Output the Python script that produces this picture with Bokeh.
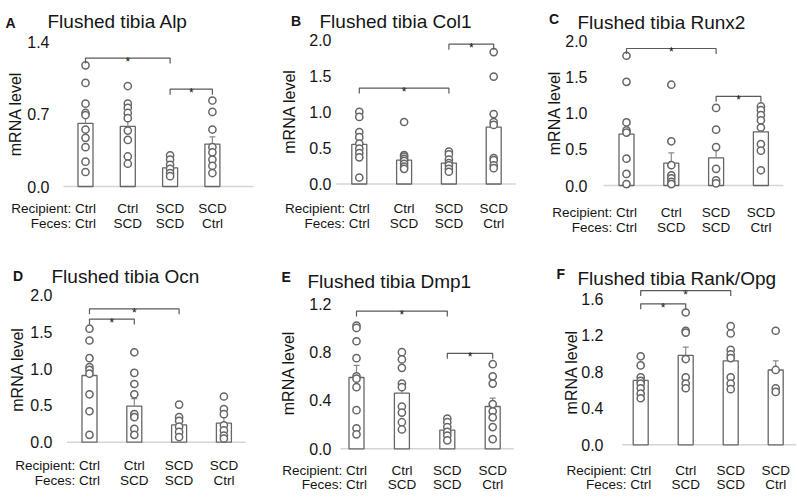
import numpy as np
from bokeh.plotting import figure
from bokeh.models import Range1d, FixedTicker, PrintfTickFormatter, Label
from bokeh.layouts import column, row
from bokeh.embed import file_html
from bokeh.resources import INLINE
from bokeh.core.properties import value

# ---------------- data ----------------
recipients = ["Ctrl", "Ctrl", "SCD", "SCD"]
feces = ["Ctrl", "SCD", "SCD", "Ctrl"]
letters = ["A", "B", "C", "D", "E", "F"]
titles = ["Flushed tibia Alp", "Flushed tibia Col1", "Flushed tibia Runx2",
          "Flushed tibia Ocn", "Flushed tibia Dmp1", "Flushed tibia Rank/Opg"]
ylabel = "mRNA level"

alp_mean = [0.61, 0.58, 0.18, 0.41]
alp_sem = [0.10, 0.08, 0.03, 0.07]
alp_points = [[1.17, 1.00, 0.80, 0.71, 0.69, 0.55, 0.47, 0.38, 0.24, 0.14],
              [0.97, 0.80, 0.76, 0.71, 0.66, 0.54, 0.45, 0.29, 0.22],
              [0.30, 0.26, 0.21, 0.17, 0.13, 0.10],
              [0.83, 0.72, 0.55, 0.38, 0.33, 0.26, 0.20, 0.13]]
alp_ticks = [0.0, 0.7, 1.4]
alp_sig = [(0, 2, 1.24), (2, 3, 0.94)]

col1_mean = [0.55, 0.33, 0.29, 0.79]
col1_sem = [0.08, 0.07, 0.04, 0.18]
col1_points = [[1.00, 0.93, 0.72, 0.65, 0.56, 0.49, 0.43, 0.37, 0.09],
               [0.86, 0.40, 0.38, 0.35, 0.32, 0.28, 0.24, 0.21],
               [0.45, 0.41, 0.34, 0.29, 0.26, 0.21, 0.17],
               [1.83, 1.49, 0.97, 0.86, 0.82, 0.36, 0.33, 0.26, 0.22]]
col1_ticks = [0.0, 0.5, 1.0, 1.5, 2.0]
col1_sig = [(0, 2, 1.33), (2, 3, 1.94)]

runx2_mean = [0.71, 0.31, 0.38, 0.74]
runx2_sem = [0.20, 0.14, 0.12, 0.09]
runx2_points = [[1.79, 1.43, 0.87, 0.76, 0.73, 0.37, 0.16, 0.02],
                [1.39, 0.61, 0.28, 0.14, 0.10, 0.05, 0.02],
                [1.07, 0.77, 0.53, 0.23, 0.07, 0.03],
                [1.09, 1.04, 0.97, 0.90, 0.80, 0.57, 0.48, 0.21]]
runx2_ticks = [0.0, 0.5, 1.0, 1.5, 2.0]
runx2_sig = [(0, 2, 1.89), (2, 3, 1.23)]

ocn_mean = [0.905, 0.49, 0.235, 0.26]
ocn_sem = [0.14, 0.10, 0.05, 0.08]
ocn_points = [[1.54, 1.38, 1.14, 1.02, 0.98, 0.93, 0.65, 0.42, 0.10],
              [1.22, 0.94, 0.79, 0.65, 0.38, 0.34, 0.18, 0.10],
              [0.51, 0.34, 0.29, 0.21, 0.14, 0.07],
              [0.62, 0.45, 0.38, 0.23, 0.16, 0.09, 0.05]]
ocn_ticks = [0.0, 0.5, 1.0, 1.5, 2.0]
ocn_sig = [(0, 2, 1.81), (0, 1, 1.67)]

dmp1_mean = [0.59, 0.46, 0.155, 0.35]
dmp1_sem = [0.10, 0.07, 0.03, 0.07]
dmp1_points = [[1.02, 1.00, 0.89, 0.75, 0.60, 0.58, 0.51, 0.32, 0.17, 0.12],
               [0.80, 0.74, 0.67, 0.54, 0.51, 0.35, 0.30, 0.22, 0.16],
               [0.25, 0.22, 0.18, 0.14, 0.11, 0.07],
               [0.70, 0.60, 0.54, 0.37, 0.31, 0.26, 0.18, 0.08]]
dmp1_ticks = [0.0, 0.4, 0.8, 1.2]
dmp1_sig = [(0, 2, 1.14), (2, 3, 0.79)]

rank_mean = [0.705, 0.98, 0.92, 0.82]
rank_sem = [0.05, 0.09, 0.07, 0.10]
rank_points = [[0.97, 0.87, 0.74, 0.70, 0.67, 0.62, 0.56, 0.51],
               [1.45, 1.25, 1.23, 0.94, 0.74, 0.67, 0.62],
               [1.30, 1.22, 1.04, 0.99, 0.95, 0.74, 0.67, 0.61],
               [1.25, 0.82, 0.62, 0.58]]
rank_ticks = [0.0, 0.4, 0.8, 1.2, 1.6]
rank_sig = [(0, 2, 1.69), (0, 1, 1.545)]

panels = [
    (alp_mean, alp_sem, alp_points, alp_ticks, alp_sig),
    (col1_mean, col1_sem, col1_points, col1_ticks, col1_sig),
    (runx2_mean, runx2_sem, runx2_points, runx2_ticks, runx2_sig),
    (ocn_mean, ocn_sem, ocn_points, ocn_ticks, ocn_sig),
    (dmp1_mean, dmp1_sem, dmp1_points, dmp1_ticks, dmp1_sig),
    (rank_mean, rank_sem, rank_points, rank_ticks, rank_sig),
]

# ---------------- layout / style (page pixel geometry) ----------------
# x0,y0,w,h: canvas box; zero/top: pixel rows of 0 and of the top tick;
# axis: x pixel of the (invisible) y-axis line; bar1/sp: first bar centre and bar spacing
GEOM = [
    dict(x0=0, y0=0, w=268, h=249, zero=186.0, top=(1.4, 41.0), axis=53, bar1=85.0, sp=42.3,
         rows=(22, 37), base=(0.48, 4.97), title=(47, 21.3), letter=(5, 22.7), ylab=(15, 113.5)),
    dict(x0=268, y0=0, w=260, h=249, zero=183.5, top=(2.0, 39.3), axis=335, bar1=358.8, sp=44.8,
         rows=(24, 39), base=(0.49, 4.49), title=(319, 20.7), letter=(290.5, 20.7), ylab=(288.5, 111)),
    dict(x0=528, y0=0, w=268, h=249, zero=185.0, top=(2.0, 40.0), axis=591, bar1=626.0, sp=44.8,
         rows=(27, 42), base=(0.49, 4.5), title=(577, 21.5), letter=(548.5, 18.5), ylab=(554, 112.5)),
    dict(x0=0, y0=249, w=268, h=247, zero=441.7, top=(2.0, 294.3), axis=56, bar1=89.0, sp=44.8,
         rows=(23, 38), base=(0.5, 4.48), title=(51, 276), letter=(12.5, 275.7), ylab=(16.7, 369)),
    dict(x0=268, y0=249, w=260, h=247, zero=448.3, top=(1.2, 303.3), axis=335, bar1=356.0, sp=45.4,
         rows=(22, 36), base=(0.65, 4.46), title=(307, 280.7), letter=(281, 276.7), ylab=(288.3, 372.5)),
    dict(x0=528, y0=249, w=268, h=247, zero=444.3, top=(1.6, 298.3), axis=607, bar1=640.2, sp=45.0,
         rows=(26, 40), base=(0.59, 5.1), title=(577, 278.3), letter=(556, 273.3), ylab=(571, 371.7)),
]

FONT = "Liberation Sans"
TXT = "#151515"
BAR_LINE = "#666666"
PT_LINE = "#666666"
BRK = "#5a5a5a"
BASE = "#d4d4d4"
LAB_FS = 13.5


def make_panel(k):
    means, sem, points, ticks, sig = panels[k]
    g = GEOM[k]
    x0, y0, w, h = g["x0"], g["y0"], g["w"], g["h"]
    tv, tp = g["top"]
    ppu = (g["zero"] - tp) / tv

    def px2x(px):
        return 1 + (px - g["bar1"]) / g["sp"]

    def py2y(py):
        return (g["zero"] - py) / ppu

    p = figure(width=w, height=h, x_range=Range1d(px2x(x0), px2x(x0 + w)),
               y_range=Range1d(py2y(y0 + h), py2y(y0)),
               output_backend="svg", toolbar_location=None, x_axis_location=None, title=None,
               min_border_left=0, min_border_right=0, min_border_top=0, min_border_bottom=0)
    p.grid.visible = False
    p.outline_line_color = None
    p.background_fill_color = "white"
    p.border_fill_color = "white"

    ax = p.yaxis[0]
    ax.fixed_location = px2x(g["axis"])
    ax.ticker = FixedTicker(ticks=ticks)
    ax.formatter = PrintfTickFormatter(format="%.1f")
    ax.axis_line_color = None
    ax.major_tick_line_color = None
    ax.minor_tick_line_color = None
    ax.major_tick_out = 0
    ax.major_tick_in = 0
    ax.minor_tick_out = 0
    ax.minor_tick_in = 0
    ax.major_label_standoff = 4
    ax.major_label_text_font = FONT
    ax.major_label_text_font_size = "16px"
    ax.major_label_text_color = TXT

    xs = np.arange(1, len(means) + 1)
    bw = 15.0 / g["sp"]

    # baseline
    p.line(x=list(g["base"]), y=[0, 0], line_color=BASE, line_width=1.6)

    # bars
    p.vbar(x=xs, top=means, bottom=0, width=bw, fill_color="white",
           line_color=BAR_LINE, line_width=1.3)

    # error bars (upper)
    tops = np.array(means) + np.array(sem)
    cap = 3.0 / g["sp"]
    p.segment(x0=xs, y0=means, x1=xs, y1=tops, line_color="#8a8a8a", line_width=1.2)
    p.segment(x0=xs - cap, y0=tops, x1=xs + cap, y1=tops, line_color="#8a8a8a", line_width=1.2)

    # individual points
    px = np.concatenate([[xs[i]] * len(pts) for i, pts in enumerate(points)])
    py = np.concatenate([pts for pts in points])
    p.scatter(x=px, y=py, marker="circle", size=7.2, fill_color="white",
              line_color=PT_LINE, line_width=1.5)

    # significance brackets
    drop = 5.5 / ppu
    for (i, j, yb) in sig:
        p.line(x=[xs[i], xs[i], xs[j], xs[j]], y=[yb - drop, yb, yb, yb - drop],
               line_color=BRK, line_width=1.2)
        p.text(x=[(xs[i] + xs[j]) / 2], y=[yb], text=["*"], text_align="center",
               text_baseline="alphabetic", y_offset=4, text_font=value(FONT),
               text_font_size="12px", text_color=TXT)

    # group labels
    r1, r2 = g["rows"]
    half = 0.5 * 1.555 * LAB_FS
    p.text(x=[xs[0], xs[0]], y=[0, 0],
           text=["Recipient: " + recipients[0], "Feces: " + feces[0]],
           x_offset=half, y_offset=[r1, r2], text_align="right", text_baseline="middle",
           text_font=value(FONT), text_font_size=f"{LAB_FS}px", text_color=TXT)
    p.text(x=list(xs[1:]) * 2, y=[0] * 6, text=recipients[1:] + feces[1:],
           y_offset=[r1] * 3 + [r2] * 3, text_align="center", text_baseline="middle",
           text_font=value(FONT), text_font_size=f"{LAB_FS}px", text_color=TXT)

    # title, panel letter and y-axis label
    tx, ty = g["title"]
    p.add_layout(Label(x=px2x(tx), y=py2y(ty), text=titles[k], text_font=FONT,
                       text_font_size="19px", text_color=TXT, text_align="left",
                       text_baseline="alphabetic"))
    lx, ly = g["letter"]
    p.add_layout(Label(x=px2x(lx), y=py2y(ly), text=letters[k], text_font=FONT,
                       text_font_size="14px", text_font_style="bold", text_color=TXT,
                       text_align="left", text_baseline="alphabetic"))
    yx, yy = g["ylab"]
    p.add_layout(Label(x=px2x(yx), y=py2y(yy), text=ylabel, text_font=FONT,
                       text_font_size="16px", text_color=TXT, angle=np.pi / 2,
                       text_align="center", text_baseline="middle"))
    return p


figs = [make_panel(k) for k in range(6)]
layout = column(row(figs[0], figs[1], figs[2]), row(figs[3], figs[4], figs[5]))
open("out.html", "w").write(file_html(layout, INLINE))
